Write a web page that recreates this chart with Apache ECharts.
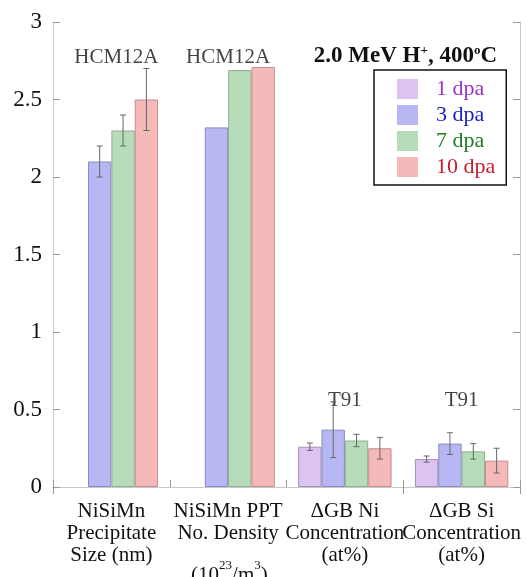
<!DOCTYPE html>
<html>
<head>
<meta charset="utf-8">
<script src="https://cdn.jsdelivr.net/npm/echarts@6/dist/echarts.min.js"></script>
<style>
html,body{margin:0;padding:0;background:#fff;}
#c{width:526px;height:577px;}
</style>
</head>
<body>
<div id="c"></div>
<script>
// ---- data ----
var categories = [
  'NiSiMn\nPrecipitate\nSize (nm)',
  'NiSiMn PPT\nNo. Density\n{gap| }{low|(10}{sup|23}{low|/m}{sup|3}{low|)}',
  '\u0394GB Ni\nConcentration\n(at%)',
  '\u0394GB Si\nConcentration\n(at%)'
];
var seriesNames = ['1 dpa', '3 dpa', '7 dpa', '10 dpa'];
var dpa1 = [null, null, 0.26, 0.18];
var dpa3 = [2.10, 2.32, 0.37, 0.28];
var dpa7 = [2.30, 2.69, 0.30, 0.23];
var dpa10 = [2.50, 2.71, 0.25, 0.17];
var err1 = [null, null, 0.024, 0.02];
var err3 = [0.10, null, 0.18, 0.07];
var err7 = [0.10, null, 0.04, 0.05];
var err10 = [0.20, null, 0.07, 0.08];
var materialLabels = ['HCM12A', 'HCM12A', 'T91', 'T91'];
var materialLabelY = [2.77, 2.77, 0.56, 0.56];
var yTicks = [0, 0.5, 1, 1.5, 2, 2.5, 3];

// ---- style ----
var fillColors = ['#dcc3f2', '#b7b7f3', '#b7dcb9', '#f6b9b9'];
var edgeColors = ['#a58fb8', '#8a8ac0', '#8fae92', '#c08e8e'];
var textColors = ['#9a33c4', '#1c1ccc', '#1f7d24', '#cc1b2c'];
var FONT = "'Liberation Serif', 'Times New Roman', serif";
var labelOffsets = [[5, 0], [0, 0], [0, 0], [0, 0]];

var values = [dpa1, dpa3, dpa7, dpa10];
var errs = [err1, err3, err7, err10];

var series = [];
seriesNames.forEach(function (n, i) {
  series.push({
    name: n, type: 'bar', xAxisIndex: 0, yAxisIndex: 0,
    data: values[i],
    barGap: '0%', barCategoryGap: '20%',
    itemStyle: { color: fillColors[i], borderColor: edgeColors[i], borderWidth: 1 },
    silent: true, animation: false
  });
});

// error bars
var errData = [];
for (var s = 0; s < 4; s++) {
  for (var c = 0; c < 4; c++) {
    if (values[s][c] != null && errs[s][c] != null) {
      errData.push([c, values[s][c] - errs[s][c], values[s][c] + errs[s][c], s]);
    }
  }
}
series.push({
  type: 'custom', name: 'err', xAxisIndex: 0, yAxisIndex: 0,
  data: errData, animation: false, silent: true, z: 5,
  encode: { x: 0, y: [1, 2] },
  renderItem: function (params, api) {
    var ci = api.value(0);
    var lo = api.coord([ci, api.value(1)]);
    var hi = api.coord([ci, api.value(2)]);
    var bw = api.size([1, 0])[0];
    var barW = bw * 0.8 / 4;
    var x = lo[0] + (api.value(3) - 1.5) * barW;
    var cap = 3;
    var st = { stroke: '#666', lineWidth: 1 };
    return {
      type: 'group',
      children: [
        { type: 'line', shape: { x1: x, y1: lo[1], x2: x, y2: hi[1] }, style: st },
        { type: 'line', shape: { x1: x - cap, y1: lo[1], x2: x + cap, y2: lo[1] }, style: st },
        { type: 'line', shape: { x1: x - cap, y1: hi[1], x2: x + cap, y2: hi[1] }, style: st }
      ]
    };
  }
});

// material labels
series.push({
  type: 'scatter', xAxisIndex: 0, yAxisIndex: 0, name: 'mat',
  symbolSize: 0, silent: true, animation: false,
  data: materialLabels.map(function (t, i) {
    return { value: [i, materialLabelY[i]], label: { offset: labelOffsets[i] } };
  }),
  label: {
    show: true, position: 'inside',
    formatter: function (p) { return materialLabels[p.dataIndex]; },
    fontFamily: FONT, fontSize: 21, color: '#111'
  }
});

var axisGray = '#c8c8c8';
var option = {
  backgroundColor: '#fff',
  animation: false,
  textStyle: { fontFamily: FONT },
  title: {
    text: '2.0 MeV H{sup|+}, 400{sup|o}C',
    right: 24, top: 39,
    textStyle: {
      fontFamily: FONT, fontSize: 23, fontWeight: 'bold', color: '#111',
      rich: {
        sup: { fontFamily: FONT, fontSize: 13, fontWeight: 'bold', color: '#111', verticalAlign: 'top', padding: [0, 0, 12, 0] }
      }
    }
  },
  legend: {
    data: seriesNames.map(function (n, i) { return { name: n, textStyle: { color: textColors[i] } }; }),
    orient: 'vertical',
    left: 374, top: 70,
    padding: [8, 11, 7, 23],
    itemWidth: 21, itemHeight: 20, itemGap: 4,
    icon: 'rect',
    borderColor: '#111', borderWidth: 1.5,
    backgroundColor: '#fff',
    textStyle: { fontFamily: FONT, fontSize: 22, padding: [0, 0, 0, 13] },
    itemStyle: { borderWidth: 0 },
    selectedMode: false
  },
  grid: { left: 53, right: 6, top: 22, bottom: 90, containLabel: false, outerBoundsMode: 'none' },
  xAxis: [
    {
      type: 'category', data: categories, position: 'bottom',
      axisLine: { show: true, lineStyle: { color: axisGray, width: 1 } },
      axisTick: { show: true, inside: true, length: 7, lineStyle: { color: '#999' } },
      axisLabel: {
        interval: 0, margin: 13, fontFamily: FONT, fontSize: 21, color: '#111', lineHeight: 22,
        rich: {
          gap: { fontFamily: FONT, fontSize: 10, lineHeight: 42, verticalAlign: 'bottom' },
          low: { fontFamily: FONT, fontSize: 21, color: '#111', lineHeight: 22, verticalAlign: 'bottom' },
          sup: { fontFamily: FONT, fontSize: 13, color: '#111', lineHeight: 14, verticalAlign: 'top', padding: [15, 0, 0, 0] }
        }
      },
      splitLine: { show: false }
    },
    {
      type: 'category', data: categories, position: 'top',
      axisLine: { show: true, lineStyle: { color: axisGray, width: 1 } },
      axisTick: { show: true, inside: true, length: 7, lineStyle: { color: '#999' } },
      axisLabel: { show: false },
      splitLine: { show: false }
    }
  ],
  yAxis: [
    {
      type: 'value', min: yTicks[0], max: yTicks[yTicks.length - 1], interval: 0.5, position: 'left',
      axisLine: { show: true, lineStyle: { color: axisGray } },
      axisTick: { show: true, inside: true, length: 7, lineStyle: { color: '#999' } },
      axisLabel: { margin: 11, fontFamily: FONT, fontSize: 23, color: '#111' },
      splitLine: { show: false }
    },
    {
      type: 'value', min: yTicks[0], max: yTicks[yTicks.length - 1], interval: 0.5, position: 'right',
      axisLine: { show: true, lineStyle: { color: axisGray } },
      axisTick: { show: true, inside: true, length: 7, lineStyle: { color: '#999' } },
      axisLabel: { show: false },
      splitLine: { show: false }
    }
  ],
  series: series
};

var chart = echarts.init(document.getElementById('c'), null, { renderer: 'canvas' });
chart.setOption(option);
</script>
</body>
</html>
